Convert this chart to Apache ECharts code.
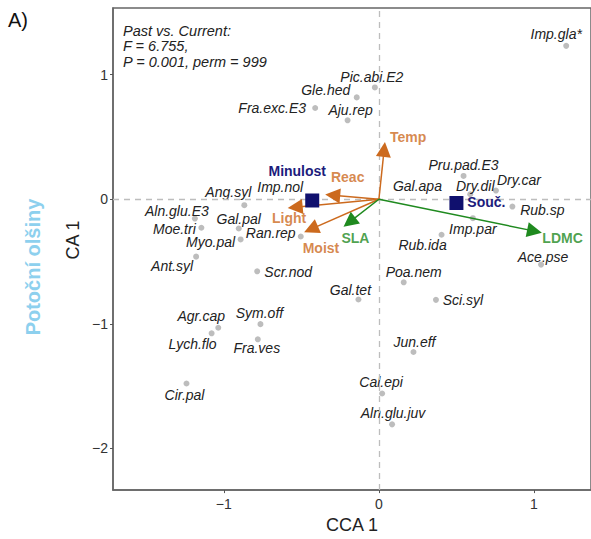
<!DOCTYPE html>
<html><head><meta charset="utf-8">
<script src="https://cdn.jsdelivr.net/npm/echarts@6/dist/echarts.min.js"></script>
<style>html,body{margin:0;padding:0;background:#fff}#c{width:591px;height:539px}</style>
</head><body><div id="c"></div>
<script>
// ---------- data ----------
const speciesNames = ['Imp.gla*','Pic.abi.E2','Gle.hed','Fra.exc.E3','Aju.rep','Imp.nol','Pru.pad.E3','Gal.apa','Dry.dil','Dry.car','Rub.sp','Imp.par','Rub.ida','Ace.pse','Poa.nem','Sci.syl','Ang.syl','Aln.glu.E3','Moe.tri','Gal.pal','Myo.pal','Ran.rep','Ant.syl','Scr.nod','Gal.tet','Agr.cap','Lych.flo','Sym.off','Fra.ves','Cir.pal','Jun.eff','Cal.epi','Aln.glu.juv'];
const speciesX = [1.208,-0.026,-0.143,-0.411,-0.202,-0.43,0.546,0.50,0.589,0.755,0.861,0.606,0.404,1.046,0.16,0.368,-0.868,-1.187,-1.145,-0.904,-0.892,-0.504,-1.179,-0.785,-0.132,-1.036,-1.079,-0.764,-0.781,-1.241,0.223,0.021,0.085];
const speciesY = [1.232,0.898,0.818,0.733,0.634,-0.008,0.187,-0.03,0.04,0.07,-0.059,-0.152,-0.285,-0.525,-0.667,-0.808,-0.048,-0.155,-0.229,-0.235,-0.323,-0.299,-0.461,-0.579,-0.805,-1.032,-1.077,-1.003,-1.125,-1.48,-1.227,-1.56,-1.808];
const envNames = ['Temp','Reac','Light','Moist'];
const envX = [0.034,-0.298,-0.54,-0.438];
const envY = [0.40,0.032,-0.064,-0.24];
const traitNames = ['SLA','LDMC'];
const traitX = [-0.19,1.004];
const traitY = [-0.184,-0.256];
const centroidNames = ['Minulost','Souč.'];
const centroidX = [-0.43,0.50];
const centroidY = [-0.01,-0.03];
const xTicks = [-1,0,1];
const yTicks = [-2,-1,0,1];

// ---------- layout / style config ----------
const speciesLabelOffset = {
 'Imp.gla*':[-10,-12],'Pic.abi.E2':[-3,-10],'Gle.hed':[-31,-7],'Fra.exc.E3':[-43,0],'Aju.rep':[3,-10],
 'Imp.nol':[-32,-13],'Pru.pad.E3':[0,-11],'Gal.apa':[-39,-17],'Dry.dil':[5,-8],'Dry.car':[23,-11],
 'Rub.sp':[30,3],'Imp.par':[0,11],'Rub.ida':[-19,10],'Ace.pse':[2,-8],'Poa.nem':[10,-10],'Sci.syl':[27,0],
 'Ang.syl':[-16,-13],'Aln.glu.E3':[-18,-8],'Moe.tri':[-27,1],'Gal.pal':[0,-10],'Myo.pal':[-30,3],
 'Ran.rep':[-30,-3],'Ant.syl':[-24,9],'Scr.nod':[31,1],'Gal.tet':[-8,-9],'Agr.cap':[-17,-12],
 'Lych.flo':[-19,11],'Sym.off':[-1,-11],'Fra.ves':[-1,9],'Cir.pal':[-2,11],'Jun.eff':[1,-10],
 'Cal.epi':[-1,-11],'Aln.glu.juv':[1,-11]
};
const arrowLabelOffset = {'Temp':[24,-12],'Reac':[15,-18],'Light':[-6,11],'Moist':[10,19],'SLA':[6,16],'LDMC':[28,7]};
const centroidLabelOffset = {'Minulost':[-15,-29],'Souč.':[30,-1]};
const ORANGE = '#cc6a1e', GREEN = '#1f8a1f', NAVY = '#10106e';
const FONT = 'Liberation Sans, Arial, sans-serif';
const minus = v => String(v).replace('-', '\u2212');

const chart = echarts.init(document.getElementById('c'), null, {renderer:'svg'});

function arrowSeries(names, xs, ys, color) {
  return [{
    type:'lines', coordinateSystem:'cartesian2d', z:5,
    data: names.map((n,i)=>({coords:[[0,0],[xs[i],ys[i]]]})),
    lineStyle:{color:color, width:1.5, opacity:1},
    symbol:['none','triangle'], symbolSize:15,
    silent:true
  },{
    type:'scatter', z:6, symbolSize:0,
    data: names.map((n,i)=>({name:n, value:[xs[i],ys[i]],
      label:{offset:arrowLabelOffset[n]}})),
    label:{show:true, position:'inside', formatter:'{b}', color:color, fontWeight:'bold',
      fontSize:14, lineHeight:14, fontFamily:FONT, align:'center', verticalAlign:'middle'},
    silent:true
  }];
}

chart.setOption({
  animation:false,
  backgroundColor:'#fff',
  grid:{left:113, top:8, right:-5, bottom:47, show:true, borderColor:'#666', borderWidth:1.5, backgroundColor:'transparent'},
  xAxis:{type:'value', min:-1.715, max:1.368,
    name:'CCA 1', nameLocation:'middle', nameGap:25,
    nameTextStyle:{fontSize:18, color:'#222', fontFamily:FONT},
    axisLine:{show:true, onZero:false, lineStyle:{color:'#666', width:1.5}},
    axisTick:{show:true, length:3, customValues:xTicks, lineStyle:{color:'#555'}},
    axisLabel:{customValues:xTicks, formatter:minus, fontSize:14, color:'#333', fontFamily:FONT, margin:7},
    splitLine:{show:false}},
  yAxis:{type:'value', min:-2.336, max:1.536,
    axisLine:{show:true, onZero:false, lineStyle:{color:'#666', width:1.5}},
    axisTick:{show:true, length:3, customValues:yTicks, lineStyle:{color:'#555'}},
    axisLabel:{customValues:yTicks, formatter:minus, fontSize:14, color:'#333', fontFamily:FONT, margin:5},
    splitLine:{show:false}},
  graphic:[
    {type:'text', left:8, top:10, style:{text:'A)', fontSize:20, fill:'#111', fontFamily:FONT}},
    {type:'text', left:123, top:23, style:{text:'Past vs. Current:\nF = 6.755,\nP = 0.001, perm = 999',
      fontSize:14.5, fontStyle:'italic', lineHeight:15.5, fill:'#222', fontFamily:FONT}},
    {type:'text', x:73, y:240, rotation:Math.PI/2,
      style:{text:'CA 1', fontSize:18, fill:'#222', fontFamily:FONT, align:'center', verticalAlign:'middle'}},
    {type:'text', x:33, y:267, rotation:Math.PI/2,
      style:{text:'Potoční olšiny', fontSize:20, fontWeight:'bold', fill:'#8dd0ee', fontFamily:FONT, align:'center', verticalAlign:'middle'}}
  ],
  series:[
    {type:'scatter', data:[], z:1, silent:true,
     markLine:{silent:true, symbol:'none', label:{show:false},
       lineStyle:{type:[6,5], color:'#bdbdbd', width:1.3},
       data:[{xAxis:0},{yAxis:0}]}},
    {type:'scatter', z:3, symbolSize:6, itemStyle:{color:'#bdbdbd', opacity:1},
     data: speciesNames.map((n,i)=>({name:n, value:[speciesX[i],speciesY[i]],
       label:{offset:speciesLabelOffset[n]}})),
     label:{show:true, position:'inside', formatter:'{b}', color:'#222', fontStyle:'italic',
       fontSize:14, lineHeight:14, fontFamily:FONT, align:'center', verticalAlign:'middle'},
     silent:true},
    ...arrowSeries(envNames, envX, envY, ORANGE),
    ...arrowSeries(traitNames, traitX, traitY, GREEN),
    {type:'scatter', z:8, symbol:'rect', symbolSize:14, itemStyle:{color:NAVY, opacity:1},
     data: centroidNames.map((n,i)=>({name:n, value:[centroidX[i],centroidY[i]],
       label:{offset:centroidLabelOffset[n]}})),
     label:{show:true, position:'inside', formatter:'{b}', color:'#1c1c7c', fontWeight:'bold',
       fontSize:14, fontFamily:FONT, align:'center', verticalAlign:'middle'},
     silent:true}
  ]
});
</script></body></html>
